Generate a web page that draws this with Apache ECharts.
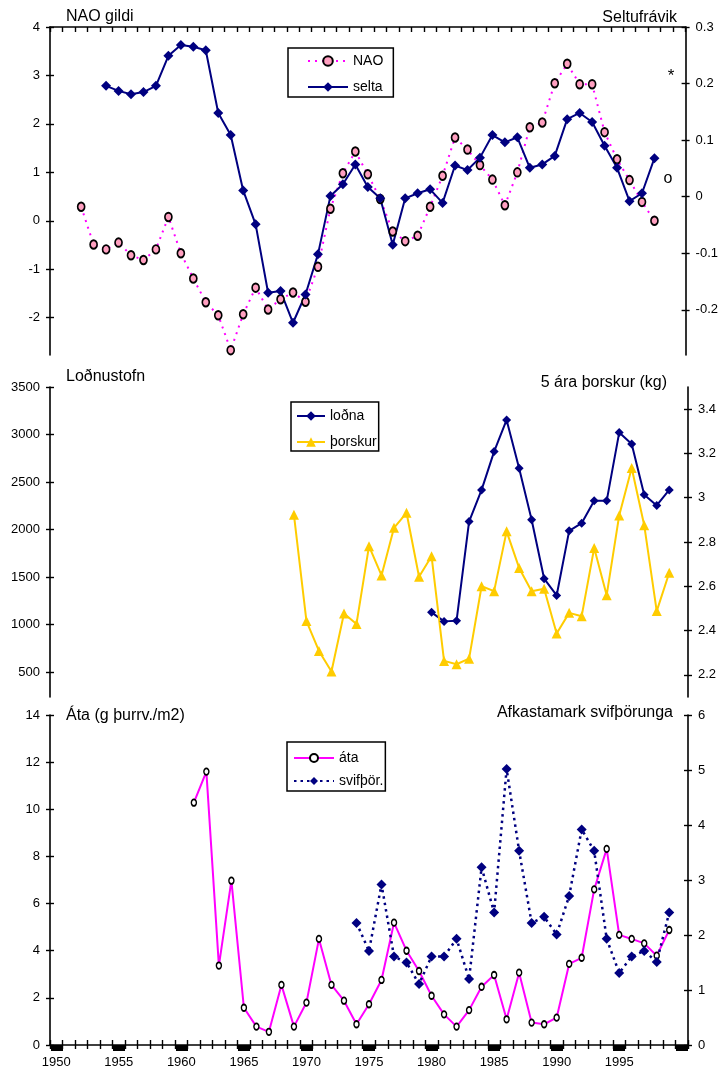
<!DOCTYPE html>
<html><head><meta charset="utf-8">
<script src="https://cdn.jsdelivr.net/npm/echarts@6/dist/echarts.min.js"></script>
<style>html,body{margin:0;padding:0;background:#fff}#c{width:721px;height:1072px}</style>
</head><body><div id="c"></div>
<script>
// ---- categories ----
const firstYear = 1950, lastYear = 2000;
const years = [];
for (let y = firstYear; y <= lastYear; y++) years.push(String(y));

// ---- series values (start year + values) ----
const naoStart = 1952;
const naoValues = [0.29, -0.49, -0.59, -0.45, -0.71, -0.81, -0.59, 0.08, -0.67, -1.19,
  -1.68, -1.95, -2.67, -1.93, -1.38, -1.83, -1.62, -1.48, -1.67, -0.95,
  0.25, 0.98, 1.43, 0.96, 0.45, -0.22, -0.42, -0.31, 0.29, 0.93,
  1.72, 1.47, 1.15, 0.85, 0.32, 1.0, 1.93, 2.03, 2.84, 3.24,
  2.82, 2.82, 1.83, 1.27, 0.84, 0.39, 0.0];

const seltaStart = 1954;
const seltaValues = [0.196, 0.187, 0.181, 0.185, 0.196, 0.249, 0.268, 0.265, 0.259, 0.148,
  0.109, 0.011, -0.049, -0.17, -0.167, -0.223, -0.173, -0.102, 0.001, 0.022,
  0.057, 0.017, -0.003, -0.085, -0.003, 0.006, 0.013, -0.011, 0.055, 0.047,
  0.069, 0.109, 0.096, 0.105, 0.051, 0.057, 0.072, 0.137, 0.148, 0.132,
  0.09, 0.051, -0.008, 0.006, 0.068];

const lodnaStart = 1980;
const lodnaValues = [1128, 1033, 1040, 2084, 2417, 2820, 3153, 2645, 2102, 1482,
  1306, 1986, 2067, 2302, 2302, 3020, 2901, 2365, 2253, 2417];

const thorskurStart = 1969;
const thorskurValues = [2.923, 2.443, 2.308, 2.215, 2.477, 2.430, 2.781, 2.649, 2.864, 2.932,
  2.643, 2.736, 2.263, 2.248, 2.273, 2.6, 2.578, 2.848, 2.683, 2.578,
  2.589, 2.387, 2.48, 2.465, 2.773, 2.56, 2.92, 3.134, 2.876, 2.488, 2.661];

const ataStart = 1961;
const ataValues = [10.28, 11.6, 3.37, 6.97, 1.58, 0.78, 0.56, 2.55, 0.78, 1.8,
  4.5, 2.55, 1.88, 0.88, 1.73, 2.76, 5.19, 4.0, 3.14, 2.09,
  1.3, 0.78, 1.48, 2.47, 2.97, 1.09, 3.07, 0.95, 0.88, 1.16,
  3.44, 3.7, 6.6, 8.32, 4.67, 4.5, 4.31, 3.79, 4.88];

const svifStart = 1974;
const svifValues = [2.22, 1.71, 2.92, 1.61, 1.5, 1.11, 1.61, 1.61, 1.93, 1.2,
  3.23, 2.41, 5.02, 3.53, 2.22, 2.33, 2.01, 2.71, 3.92, 3.53,
  1.93, 1.31, 1.61, 1.71, 1.51, 2.41];

// ---- tick labels ----
const naoTicks = [-2, -1, 0, 1, 2, 3, 4];
const seltaTicks = [-0.2, -0.1, 0, 0.1, 0.2, 0.3];
const lodnaTicks = [500, 1000, 1500, 2000, 2500, 3000, 3500];
const thorskurTicks = [2.2, 2.4, 2.6, 2.8, 3, 3.2, 3.4];
const ataTicks = [0, 2, 4, 6, 8, 10, 12, 14];
const svifTicks = [0, 1, 2, 3, 4, 5, 6];

function place(start, values) {
  const arr = years.map(() => null);
  values.forEach((v, i) => { arr[start - firstYear + i] = v; });
  return arr;
}

const FONT = "'Liberation Sans', Arial, sans-serif";
const BLACK = '#000';

const yAxes = [];
function addY(grid, pos, min, max, ticks) {
  const idx = yAxes.length;
  yAxes.push({
    type: 'value', gridIndex: grid, position: pos, min: min, max: max,
    axisLine: { show: true, onZero: false, lineStyle: { color: BLACK, width: 1.6 } },
    axisTick: { show: true, length: 4, customValues: ticks, lineStyle: { color: BLACK, width: 1.4 } },
    axisLabel: { show: true, customValues: ticks, margin: 10, color: BLACK, fontSize: 13, fontFamily: FONT,
      formatter: (v) => String(v) },
    splitLine: { show: false }
  });
  // duplicate for inward half of crossing ticks
  yAxes.push({
    type: 'value', gridIndex: grid, position: pos, min: min, max: max,
    axisLine: { show: false, onZero: false },
    axisTick: { show: true, inside: true, length: 4, customValues: ticks, lineStyle: { color: BLACK, width: 1.4 } },
    axisLabel: { show: false },
    splitLine: { show: false }
  });
  return idx;
}

const yNao = addY(0, 'left', -2.77, 4, naoTicks);
const ySelta = addY(0, 'right', -0.28, 0.3, seltaTicks);
const yLodna = addY(1, 'left', 237, 3500, lodnaTicks);
const yThorsk = addY(1, 'right', 2.1, 3.5, thorskurTicks);
const yAta = addY(2, 'left', 0, 14, ataTicks);
const ySvif = addY(2, 'right', 0, 6, svifTicks);

const xAxes = [
  { // top panel, axis along top
    type: 'category', gridIndex: 0, data: years, position: 'top', boundaryGap: true,
    axisLine: { show: true, onZero: false, lineStyle: { color: BLACK, width: 1.6 } },
    axisTick: { show: true, inside: true, length: 5, interval: 0, lineStyle: { color: BLACK, width: 1.4 } },
    axisLabel: { show: false }, splitLine: { show: false }
  },
  { type: 'category', gridIndex: 1, data: years, boundaryGap: true, show: false, axisLine: { onZero: false } },
  { // bottom panel
    type: 'category', gridIndex: 2, data: years, position: 'bottom', boundaryGap: true,
    axisLine: { show: true, onZero: false, lineStyle: { color: BLACK, width: 1.6 } },
    axisTick: { show: true, length: 4, interval: 0, lineStyle: { color: BLACK, width: 1.4 } },
    axisLabel: {
      color: BLACK, fontSize: 13, fontFamily: FONT, margin: 11,
      interval: (i, v) => (Number(v) - firstYear) % 5 === 0 && Number(v) < lastYear
    },
    splitLine: { show: false }
  },
  {
    type: 'category', gridIndex: 2, data: years, position: 'bottom', boundaryGap: true,
    axisLine: { show: false, onZero: false },
    axisTick: { show: true, inside: true, length: 5, interval: 0, lineStyle: { color: BLACK, width: 1.4 } },
    axisLabel: { show: false }, splitLine: { show: false }
  },
  { // thick blocks at 5-year marks
    type: 'category', gridIndex: 2, data: years, position: 'bottom', boundaryGap: true,
    axisLine: { show: false, onZero: false },
    axisTick: { show: true, alignWithLabel: true, length: 6, interval: (i) => i % 5 === 0, lineStyle: { color: BLACK, width: 12 } },
    axisLabel: { show: false, interval: (i) => i % 5 === 0 }, splitLine: { show: false }
  }
];

const titleStyle = { color: BLACK, fontSize: 16, fontWeight: 'normal', fontFamily: FONT };
const legendText = { color: BLACK, fontSize: 14, fontFamily: FONT };
const legendBase = {
  orient: 'vertical', borderColor: BLACK, borderWidth: 1.5, backgroundColor: '#fff',
  textStyle: legendText, borderRadius: 0
};

const lineBase = { type: 'line', showSymbol: true, showAllSymbol: true, connectNulls: false };

const option = {
  animation: false,
  backgroundColor: '#fff',
  textStyle: { fontFamily: FONT },
  grid: [
    { left: 50, width: 638, top: 27, height: 328 },
    { left: 50, width: 638, top: 387, height: 310 },
    { left: 50, width: 638, top: 715, height: 330 }
  ],
  title: [
    { text: 'NAO gildi', left: 66, top: 9, padding: 0, textStyle: titleStyle },
    { text: 'Seltufrávik', right: 44, top: 10, padding: 0, textStyle: titleStyle },
    { text: 'Loðnustofn', left: 66, top: 369, padding: 0, textStyle: titleStyle },
    { text: '5 ára þorskur (kg)', right: 54, top: 375, padding: 0, textStyle: titleStyle },
    { text: 'Áta (g þurrv./m2)', left: 66, top: 708, padding: 0, textStyle: titleStyle },
    { text: 'Afkastamark svifþörunga', right: 48, top: 705, padding: 0, textStyle: titleStyle }
  ],
  legend: [
    Object.assign({}, legendBase, { data: ['NAO', 'selta'], left: 288, top: 48, itemWidth: 40, itemHeight: 12, itemGap: 12, padding: [6, 10, 3, 19] }),
    Object.assign({}, legendBase, { data: ['loðna', 'þorskur'], left: 291, top: 402, itemWidth: 28, itemHeight: 12, itemGap: 12, padding: [7, 2, 2, 5] }),
    Object.assign({}, legendBase, { data: ['áta', 'svifþör.'], left: 287, top: 742, itemWidth: 40, itemHeight: 10, itemGap: 9, padding: [9, 2, 3, 6] })
  ],
  xAxis: xAxes,
  yAxis: yAxes,
  graphic: [
    { type: 'text', x: 671, y: 76, style: { text: '*', fill: BLACK, font: '17px ' + FONT, textAlign: 'center', textVerticalAlign: 'middle' } },
    { type: 'text', x: 668, y: 179, style: { text: 'o', fill: BLACK, font: '16px ' + FONT, textAlign: 'center', textVerticalAlign: 'middle' } }
  ],
  series: [
    Object.assign({}, lineBase, {
      name: 'NAO', xAxisIndex: 0, yAxisIndex: yNao, data: place(naoStart, naoValues),
      color: '#FF00FF', symbol: 'circle', symbolSize: [7, 8.5],
      itemStyle: { color: '#FF9FC0', borderColor: BLACK, borderWidth: 1.8 },
      lineStyle: { color: '#FF00FF', width: 2, type: [2, 5] }
    }),
    Object.assign({}, lineBase, {
      name: 'selta', xAxisIndex: 0, yAxisIndex: ySelta, data: place(seltaStart, seltaValues),
      color: '#000080', symbol: 'diamond', symbolSize: 10,
      itemStyle: { color: '#000080' }, lineStyle: { color: '#000080', width: 2 }
    }),
    Object.assign({}, lineBase, {
      name: 'loðna', xAxisIndex: 1, yAxisIndex: yLodna, data: place(lodnaStart, lodnaValues),
      color: '#000080', symbol: 'diamond', symbolSize: 9,
      itemStyle: { color: '#000080' }, lineStyle: { color: '#000080', width: 2 }
    }),
    Object.assign({}, lineBase, {
      name: 'þorskur', xAxisIndex: 1, yAxisIndex: yThorsk, data: place(thorskurStart, thorskurValues),
      color: '#FFCC00', symbol: 'triangle', symbolSize: 10,
      itemStyle: { color: '#FFCC00' }, lineStyle: { color: '#FFCC00', width: 2 }
    }),
    Object.assign({}, lineBase, {
      name: 'áta', xAxisIndex: 2, yAxisIndex: yAta, data: place(ataStart, ataValues),
      color: '#FF00FF', symbol: 'circle', symbolSize: [5, 6.5],
      itemStyle: { color: '#fff', borderColor: BLACK, borderWidth: 1.6 },
      lineStyle: { color: '#FF00FF', width: 2 }
    }),
    Object.assign({}, lineBase, {
      name: 'svifþör.', xAxisIndex: 2, yAxisIndex: ySvif, data: place(svifStart, svifValues),
      color: '#000080', symbol: 'diamond', symbolSize: 10,
      itemStyle: { color: '#000080' }, lineStyle: { color: '#000080', width: 2.5, type: [2.5, 4] }
    })
  ]
};

const chart = echarts.init(document.getElementById('c'), null, { renderer: 'canvas' });
chart.setOption(option);
</script>
</body></html>
